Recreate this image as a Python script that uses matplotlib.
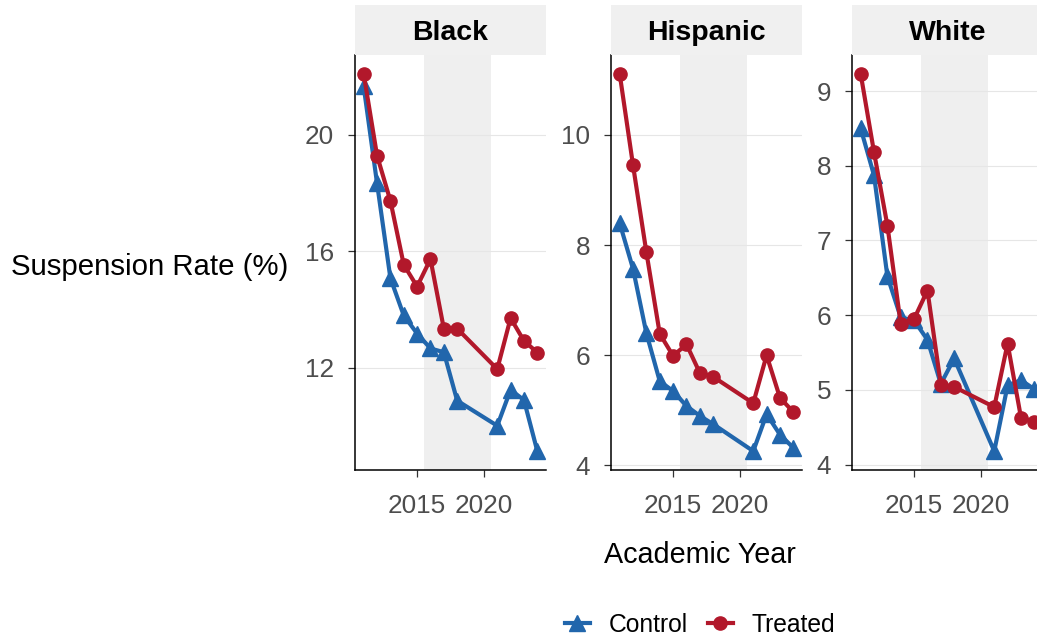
import numpy as np
import matplotlib.pyplot as plt
from matplotlib.lines import Line2D

plt.rcParams['font.family'] = ['Liberation Sans', 'DejaVu Sans']

years = [2011, 2012, 2013, 2014, 2015, 2016, 2017, 2018, 2021, 2022, 2023, 2024]
groups = ['Black', 'Hispanic', 'White']

black_control = [21.65, 18.33, 15.08, 13.80, 13.18, 12.67, 12.54, 10.88, 10.02, 11.25, 10.90, 9.15]
black_treated = [22.08, 19.28, 17.73, 15.54, 14.79, 15.73, 13.35, 13.35, 11.96, 13.71, 12.93, 12.53]
hisp_control = [8.40, 7.57, 6.40, 5.53, 5.35, 5.08, 4.90, 4.75, 4.26, 4.93, 4.56, 4.32]
hisp_treated = [11.11, 9.45, 7.87, 6.39, 5.99, 6.20, 5.68, 5.61, 5.13, 6.00, 5.23, 4.97]
white_control = [8.50, 7.87, 6.52, 5.97, 5.93, 5.67, 5.08, 5.42, 4.18, 5.06, 5.13, 5.01]
white_treated = [9.23, 8.18, 7.20, 5.88, 5.95, 6.33, 5.07, 5.04, 4.77, 5.62, 4.63, 4.57]

control = {'Black': black_control, 'Hispanic': hisp_control, 'White': white_control}
treated = {'Black': black_treated, 'Hispanic': hisp_treated, 'White': white_treated}
yticks = {'Black': [12, 16, 20], 'Hispanic': [4, 6, 8, 10], 'White': [4, 5, 6, 7, 8, 9]}

shade = (2015.5, 2020.5)
blue = '#2166AC'
red = '#B2182B'
lw = 3.0

W, H = 1037, 638
fig = plt.figure(figsize=(W / 100, H / 100), dpi=100)

lefts = [355, 611, 852]
pw = 191
top, bottom = 55, 470

def fx(p):
    return p / W

def fy(p):
    return 1 - p / H

for g, lx in zip(groups, lefts):
    ax = fig.add_axes([fx(lx), fy(bottom), fx(pw), (bottom - top) / H])
    ax.axvspan(shade[0], shade[1], color='#EFEFEF', lw=0, zorder=0)
    for t in yticks[g]:
        ax.axhline(t, color='#E6E6E6', lw=0.8, zorder=0.5)
    ax.plot(years, control[g], color=blue, lw=lw, marker='^', ms=11, zorder=2)
    ax.plot(years, treated[g], color=red, lw=lw, marker='o', ms=9.5, zorder=3)

    lo = min(min(control[g]), min(treated[g]))
    hi = max(max(control[g]), max(treated[g]))
    pad = 0.05 * (hi - lo)
    ax.set_ylim(lo - pad, hi + pad)
    xpad = 0.05 * (years[-1] - years[0])
    ax.set_xlim(years[0] - xpad, years[-1] + xpad)

    ax.set_xticks([2015, 2020])
    ax.set_yticks(yticks[g])
    ax.tick_params(labelsize=18.8, colors='#4D4D4D', length=5, width=0.9,
                   color='#333333')
    ax.tick_params(axis='x', pad=12)
    ax.tick_params(axis='y', pad=10)
    for s in ['top', 'right']:
        ax.spines[s].set_visible(False)
    for s in ['left', 'bottom']:
        ax.spines[s].set_color('black')
        ax.spines[s].set_linewidth(1.1)
    ax.set_facecolor('white')

    # facet strip
    sx = fig.add_axes([fx(lx), fy(top), fx(pw), (top - 5) / H])
    sx.set_facecolor('#F0F0F0')
    sx.set_xticks([])
    sx.set_yticks([])
    for s in sx.spines.values():
        s.set_visible(False)
    sx.text(0.5, 0.45, g, ha='center', va='center', fontsize=20.5,
            fontweight='bold', transform=sx.transAxes)

fig.text(fx(288), fy(267), 'Suspension Rate (%)', ha='right', va='center', fontsize=21.2)
fig.text(fx(700), fy(555), 'Academic Year', ha='center', va='center', fontsize=20.7)

handles = [Line2D([], [], color=blue, lw=lw, marker='^', ms=11),
           Line2D([], [], color=red, lw=lw, marker='o', ms=9.5)]
fig.legend(handles, ['Control', 'Treated'], loc='center', bbox_to_anchor=(fx(700), fy(625)),
           ncol=2, frameon=False, fontsize=17.7, handlelength=1.05, columnspacing=0.8,
           handletextpad=0.75, borderpad=0)

fig.savefig('out.png', dpi=100)
